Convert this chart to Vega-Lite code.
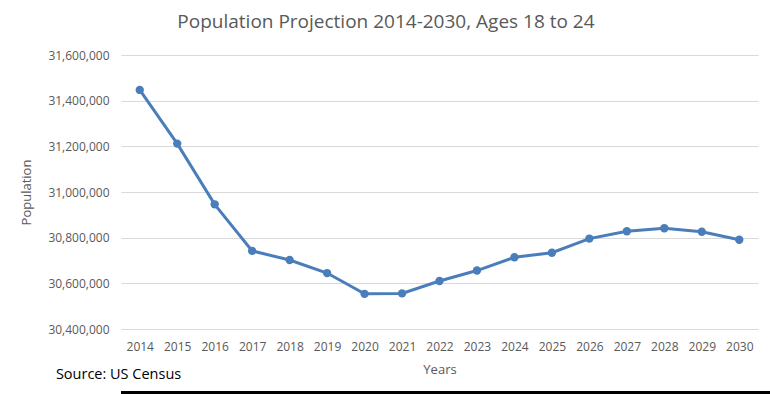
{
  "$schema": "https://vega.github.io/schema/vega-lite/v6.json",
  "autosize": {"type": "pad"},
  "padding": {"left": 20, "top": 13, "right": 0, "bottom": 0},
  "background": "white",
  "spacing": 4,
  "title": {"text": "Population Projection 2014-2030, Ages 18 to 24", "font": "Open Sans", "fontSize": 19, "fontWeight": "normal", "color": "#595959", "anchor": "middle", "frame": "bounds", "dx": -10, "offset": 17},
  "config": {"view": {"stroke": null}, "font": "Open Sans"},
  "vconcat": [
    {
      "width": 637,
      "height": 274,
      "title": {"text": "Source: US Census", "orient": "bottom", "anchor": "start", "frame": "bounds", "dx": 35, "offset": -8, "fontSize": 14.5, "fontWeight": "normal", "color": "#000000", "font": "Open Sans"},
      "data": {"values": [
        {"year": "2014", "population": 31447000},
        {"year": "2015", "population": 31212000},
        {"year": "2016", "population": 30946000},
        {"year": "2017", "population": 30742000},
        {"year": "2018", "population": 30702000},
        {"year": "2019", "population": 30645000},
        {"year": "2020", "population": 30554000},
        {"year": "2021", "population": 30556000},
        {"year": "2022", "population": 30610000},
        {"year": "2023", "population": 30656000},
        {"year": "2024", "population": 30714000},
        {"year": "2025", "population": 30734000},
        {"year": "2026", "population": 30796000},
        {"year": "2027", "population": 30828000},
        {"year": "2028", "population": 30841000},
        {"year": "2029", "population": 30826000},
        {"year": "2030", "population": 30791000}
      ]},
      "mark": {"type": "line", "color": "#4a7ebb", "strokeWidth": 3, "point": {"filled": true, "size": 70, "color": "#4a7ebb"}},
      "encoding": {
        "x": {"field": "year", "type": "ordinal", "scale": {"type": "point", "padding": 0.5},
          "axis": {"title": "Years", "labelAngle": 0, "domain": false, "ticks": false, "grid": false, "labelFontSize": 12, "labelColor": "#595959", "labelPadding": 12, "titleFontSize": 13, "titleFontWeight": "normal", "titleColor": "#595959", "titlePadding": 11}},
        "y": {"field": "population", "type": "quantitative", "scale": {"domain": [30400000, 31600000], "zero": false},
          "axis": {"title": "Population", "values": [30400000, 30600000, 30800000, 31000000, 31200000, 31400000, 31600000], "format": ",d", "domain": false, "ticks": false, "gridColor": "#d9d9d9", "gridWidth": 1, "labelFontSize": 12, "labelColor": "#595959", "labelPadding": 12, "titleFontSize": 13, "titleFontWeight": "normal", "titleColor": "#595959", "titlePadding": 14}}
      }
    },
    {
      "width": 650,
      "height": 3,
      "view": {"fill": "#000000", "stroke": null},
      "data": {"values": [{"border": "bottom"}]},
      "mark": {"type": "text", "text": ""},
      "encoding": {}
    }
  ]
}
